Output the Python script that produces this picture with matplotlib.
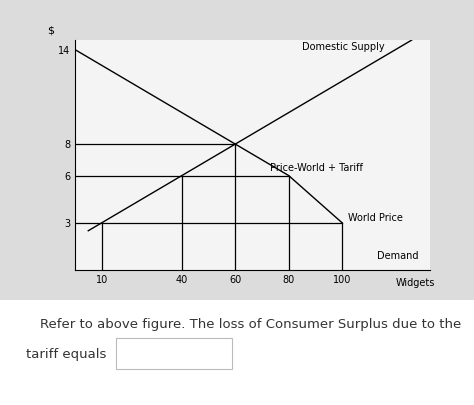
import matplotlib.pyplot as plt
from matplotlib.patches import Rectangle

# curve points
supply_q = [5, 10, 40, 60, 126]
supply_p = [2.5, 3, 6, 8, 14.6]
demand_q = [0, 60, 80, 100]
demand_p = [14, 8, 6, 3]

x_ticks = [10, 40, 60, 80, 100]
y_ticks = [3, 6, 8, 14]

# price levels and the quantities they reach
levels = [8, 6, 3]
level_ends = [60, 80, 100]
# vertical drops: (quantity, price)
drops_q = [10, 40, 60, 80, 100]
drops_p = [3, 6, 8, 6, 3]

fig = plt.figure(figsize=(4.74, 4.05), dpi=100)
fig.patch.set_facecolor('white')
fig.add_artist(Rectangle((0, 0.26), 1, 0.74, transform=fig.transFigure,
                         facecolor='#dcdcdc', edgecolor='none', zorder=0))

ax = fig.add_axes([0.158, 0.333, 0.75, 0.568])
ax.set_facecolor('#f4f4f4')
ax.set_xlim(0, 133)
ax.set_ylim(0, 14.6)

ax.plot(supply_q, supply_p, color='black', lw=1)
ax.plot(demand_q, demand_p, color='black', lw=1)
for p, q in zip(levels, level_ends):
    ax.plot([0, q], [p, p], color='black', lw=0.9)
for q, p in zip(drops_q, drops_p):
    ax.plot([q, q], [0, p], color='black', lw=0.9)

ax.set_xticks(x_ticks)
ax.set_yticks(y_ticks)
ax.tick_params(length=0, labelsize=7)
for s in ['top', 'right']:
    ax.spines[s].set_visible(False)

ax.text(-9, 15.0, '$', fontsize=8, ha='center')
ax.text(85, 14.0, 'Domestic Supply', fontsize=7)
ax.text(73, 6.3, 'Price-World + Tariff', fontsize=7)
ax.text(102, 3.1, 'World Price', fontsize=7)
ax.text(113, 0.7, 'Demand', fontsize=7)
ax.text(120, -1.0, 'Widgets', fontsize=7)

fig.text(0.085, 0.19, 'Refer to above figure. The loss of Consumer Surplus due to the',
         fontsize=9.5, color='#333333')
fig.text(0.055, 0.115, 'tariff equals', fontsize=9.5, color='#333333')
fig.add_artist(Rectangle((0.245, 0.09), 0.245, 0.075, transform=fig.transFigure,
                         facecolor='white', edgecolor='#bbbbbb', lw=0.8))

fig.savefig('out.png', dpi=100)
